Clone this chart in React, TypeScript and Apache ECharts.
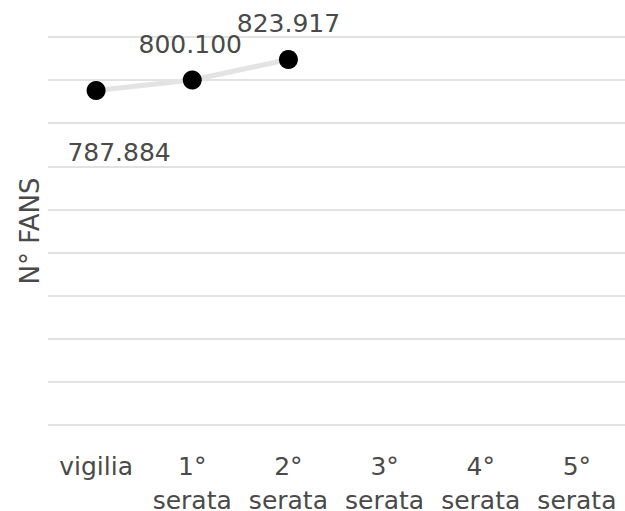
import React, { useEffect, useRef } from "react";
import * as echarts from "echarts";

const categories = ["vigilia", "1°\nserata", "2°\nserata", "3°\nserata", "4°\nserata", "5°\nserata"];
const fanValues = [787.884, 800.1, 823.917];
const valueLabels = ["787.884", "800.100", "823.917"];
const yMin = 400;
const yMax = 850;
const yInterval = 50;

const FONT = "'DejaVu Sans', sans-serif";
const TEXT = "#4a4a4a";

export default function App() {
  const ref = useRef<HTMLDivElement>(null);
  useEffect(() => {
    if (!ref.current) return;
    const chart = echarts.init(ref.current, null, { renderer: "svg" });
    const offsets = [[23, 62], [-2, -36], [0, -36]];
    chart.setOption({
      animation: false,
      grid: { left: 48, right: 0, top: 37, bottom: 86, containLabel: false, outerBoundsMode: "none" },
      xAxis: {
        type: "category",
        data: categories,
        boundaryGap: true,
        axisLine: { show: false },
        axisTick: { show: false },
        axisLabel: {
          color: TEXT,
          fontFamily: FONT,
          fontSize: 25,
          lineHeight: 34,
          margin: 24,
          interval: 0,
        },
      },
      yAxis: {
        type: "value",
        min: yMin,
        max: yMax,
        interval: yInterval,
        name: "N° FANS",
        nameLocation: "middle",
        nameGap: 5,
        nameTextStyle: { color: TEXT, fontFamily: FONT, fontSize: 26 },
        axisLine: { show: false },
        axisTick: { show: false },
        axisLabel: { show: false },
        splitLine: { lineStyle: { color: "#d9d9d9", width: 1.5 } },
      },
      series: [
        {
          type: "line",
          data: fanValues.map((v, i) => ({
            value: v,
            label: {
              show: true,
              position: "inside",
              offset: offsets[i],
              formatter: valueLabels[i],
            },
          })),
          symbol: "circle",
          symbolSize: 19,
          itemStyle: { color: "#000000" },
          lineStyle: { color: "#e3e3e3", width: 5 },
          label: {
            color: TEXT,
            fontFamily: FONT,
            fontSize: 25,
          },
        },
      ],
    });
    return () => chart.dispose();
  }, []);
  return (
    <div
      ref={ref}
      style={{ position: "fixed", left: 0, top: 0, width: 625, height: 511, background: "#fff" }}
    />
  );
}
